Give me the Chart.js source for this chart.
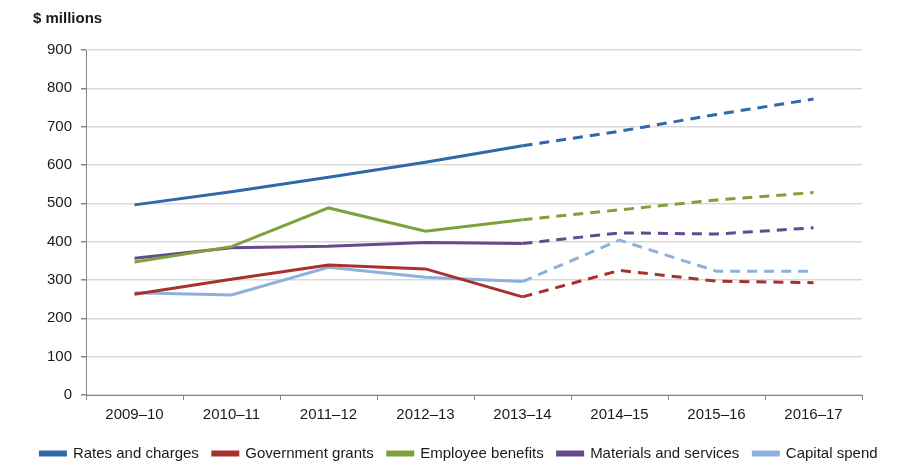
<!DOCTYPE html>
<html>
<head>
<meta charset="utf-8">
<script src="https://cdn.jsdelivr.net/npm/chart.js@4.4.0/dist/chart.umd.min.js"></script>
<style>
  html, body { margin: 0; padding: 0; background: #fff; }
  #wrap { width: 903px; height: 476px; position: relative; }
</style>
</head>
<body>
<div id="wrap"><canvas id="chart"></canvas></div>
<script>
const years = ['2009–10', '2010–11', '2011–12', '2012–13', '2013–14', '2014–15', '2015–16', '2016–17'];
const ratesAndCharges = [496, 530, 568, 607, 650, 688, 732, 772];
const governmentGrants = [263, 302, 339, 329, 256, 325, 297, 293];
const employeeBenefits = [347, 387, 488, 427, 457, 483, 509, 528];
const materialsAndServices = [357, 384, 388, 398, 395, 423, 420, 436];
const capitalSpend = [267, 261, 333, 307, 296, 404, 323, 323];
const yTicks = [0, 100, 200, 300, 400, 500, 600, 700, 800, 900];

const FONT = '"Liberation Sans", Arial, sans-serif';
const forecastFrom = 4; // from 2013-14 onward the lines are dashed

function series(label, data, color) {
  return {
    label: label,
    data: data,
    borderColor: color,
    backgroundColor: color,
    borderWidth: 3,
    pointRadius: 0,
    tension: 0,
    segment: {
      borderDash: ctx => ctx.p0DataIndex >= forecastFrom ? [10, 7] : undefined
    }
  };
}

const titlePlugin = {
  id: 'unitTitle',
  afterDraw(chart) {
    const c = chart.ctx;
    c.save();
    c.font = 'bold 15px ' + FONT;
    c.fillStyle = '#1a1a1a';
    c.textBaseline = 'middle';
    c.fillText('$ millions', 33, 19);
    c.restore();
  }
};

new Chart(document.getElementById('chart'), {
  type: 'line',
  data: {
    labels: years,
    datasets: [
      series('Rates and charges', ratesAndCharges, '#2f69a9'),
      series('Government grants', governmentGrants, '#a8312e'),
      series('Employee benefits', employeeBenefits, '#7ea13b'),
      series('Materials and services', materialsAndServices, '#674a8c'),
      series('Capital spend', capitalSpend, '#8db0dc')
    ]
  },
  options: {
    responsive: true,
    maintainAspectRatio: false,
    animation: false,
    layout: { padding: { top: 50, right: 5, left: 20, bottom: 5 } },
    plugins: {
      title: { display: false },
      tooltip: { enabled: false },
      legend: {
        position: 'bottom',
        labels: {
          boxWidth: 25,
          boxHeight: 3,
          padding: 14,
          color: '#1a1a1a',
          font: { family: FONT, size: 15 }
        }
      }
    },
    scales: {
      x: {
        offset: true,
        afterFit: axis => { axis.height = 37; },
        grid: {
          offset: true,
          drawOnChartArea: false,
          drawTicks: true,
          tickLength: 5,
          color: '#868686'
        },
        border: { color: '#868686', width: 1 },
        ticks: {
          color: '#1a1a1a',
          padding: 6,
          font: { family: FONT, size: 15 },
          maxRotation: 0
        }
      },
      y: {
        min: 0,
        max: 900,
        afterFit: axis => { axis.width = 66; },
        afterBuildTicks: axis => { axis.ticks = yTicks.map(v => ({ value: v })); },
        grid: {
          color: '#d9d9d9',
          lineWidth: 1.5,
          drawTicks: true,
          tickLength: 5,
          tickColor: '#868686'
        },
        border: { color: '#868686', width: 1 },
        ticks: {
          color: '#1a1a1a',
          padding: 9,
          font: { family: FONT, size: 15 }
        }
      },
      // empty axis on the right only to keep the plot clear of the right edge
      spacer: {
        position: 'right',
        afterFit: axis => { axis.width = 36; },
        grid: { display: false },
        border: { display: false },
        ticks: { display: false }
      }
    }
  },
  plugins: [titlePlugin]
});
</script>
</body>
</html>
